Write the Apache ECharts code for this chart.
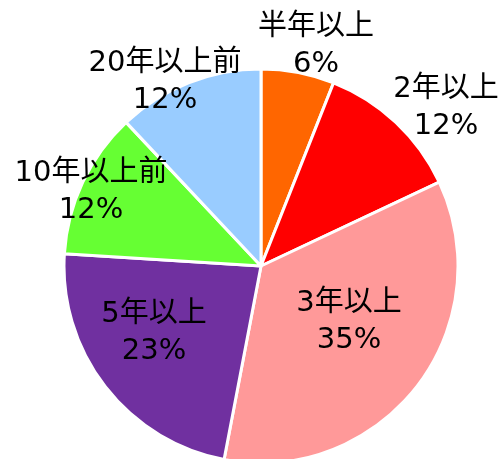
<!DOCTYPE html>
<html>
<head>
<meta charset="utf-8">
<script src="https://cdn.jsdelivr.net/npm/echarts@6/dist/echarts.min.js"></script>
<style>
  html, body { margin: 0; padding: 0; background: #fff; }
  #main { width: 504px; height: 459px; }
</style>
</head>
<body>
<div id="main"></div>
<script>
// 期間カテゴリ（時計回り、12時から）
const categories = ['半年以上', '2年以上', '3年以上', '5年以上', '10年以上前', '20年以上前']
const percents = [6, 12, 35, 23, 12, 12]
const colors = ['#FF6600', '#FF0000', '#FF9999', '#7030A0', '#66FF33', '#99CCFF']
// ラベル中心位置 (px)
const labelPos = [[316, 46], [446, 108], [349, 322], [154, 333], [91, 192], [165, 82]]

const chart = echarts.init(document.getElementById('main'))

const option = {
  animation: false,
  series: [
    {
      type: 'pie',
      center: [261, 266],
      radius: 197,
      startAngle: 90,
      clockwise: true,
      avoidLabelOverlap: false,
      itemStyle: {
        borderColor: '#fff',
        borderWidth: 3
      },
      label: {
        show: true,
        position: 'outside',
        formatter: '{b}\n{c}%',
        color: '#000',
        fontSize: 29,
        lineHeight: 37,
        fontFamily: '"DejaVu Sans", "Noto Sans CJK JP", sans-serif',
        align: 'center'
      },
      labelLine: { show: false },
      labelLayout: (params) => {
        const p = labelPos[params.dataIndex]
        return { x: p[0], y: p[1], align: 'center', verticalAlign: 'middle' }
      },
      data: categories.map((name, i) => ({
        name: name,
        value: percents[i],
        itemStyle: { color: colors[i] }
      }))
    }
  ]
}

chart.setOption(option)
</script>
</body>
</html>
